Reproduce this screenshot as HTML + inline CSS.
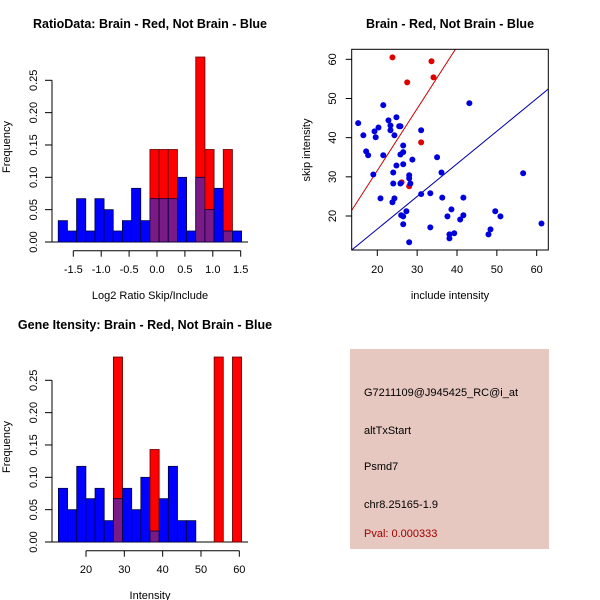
<!DOCTYPE html>
<html><head><meta charset="utf-8"><style>
body{margin:0;background:#fff}
svg{display:block;font-family:"Liberation Sans",sans-serif}
</style></head><body>
<svg id="c" width="600" height="600" viewBox="0 0 600 600">
<rect width="600" height="600" fill="#fff"/>
<text x="150" y="28" font-size="12.5" font-weight="bold" text-anchor="middle">RatioData: Brain - Red, Not Brain - Blue</text>
<text x="450" y="28" font-size="12.5" font-weight="bold" text-anchor="middle">Brain - Red, Not Brain - Blue</text>
<text x="145" y="329" font-size="12.5" font-weight="bold" text-anchor="middle">Gene Itensity: Brain - Red, Not Brain - Blue</text>
<g>
<rect x="350" y="349" width="199" height="200" fill="#e6c8c0"/>
<text x="364" y="396" font-size="11">G7211109@J945425_RC@i_at</text>
<text x="364" y="434" font-size="11">altTxStart</text>
<text x="364" y="470" font-size="11">Psmd7</text>
<text x="364" y="508" font-size="11">chr8.25165-1.9</text>
<text x="364" y="537" font-size="11" fill="#a00000">Pval: 0.000333</text>
</g>
</svg>
<script>
// ratio histogram data
const ratioBinStart=-1.77, ratioBinW=0.1643;
const ratioBlue=[0.033,0.017,0.067,0.017,0.067,0.05,0.017,0.033,0.083,0.033,0.067,0.067,0.067,0.1,0.017,0.1,0.05,0.083,0.017,0.017];
const ratioRed=[0,0,0,0,0,0,0,0,0,0,0.143,0.143,0.143,0,0,0.286,0.143,0,0.143,0];
const ratioXTicks=[-1.5,-1.0,-0.5,0.0,0.5,1.0,1.5];
const ratioXLabels=["-1.5","-1.0","-0.5","0.0","0.5","1.0","1.5"];
// intensity histogram data
const intBinStart=12.8, intBinW=2.39;
const intBlue=[0.083,0.05,0.117,0.067,0.083,0.033,0.067,0.083,0.05,0.1,0.017,0.067,0.117,0.033,0.033,0,0,0,0,0];
const intRed=[0,0,0,0,0,0,0.286,0,0,0,0.143,0,0,0,0,0,0,0.286,0,0.286];
const intXTicks=[20,30,40,50,60];
const freqTicks=[0,0.05,0.10,0.15,0.20,0.25];
const freqLabels=["0.00","0.05","0.10","0.15","0.20","0.25"];
// scatter data
const blueX=[15.2,16.5,21.5,17.2,17.7,19.3,20.3,19.6,21.5,19.0,20.8,22.8,23.3,23.3,24.8,24.3,25.5,25.8,26.5,26.5,25.8,24.0,24.8,26.5,24.0,25.8,28.8,28.0,28.0,28.3,24.3,23.8,31.0,31.0,33.3,35.0,36.1,36.3,43.1,26.0,26.5,27.3,26.5,28.0,33.3,37.6,38.6,38.1,38.1,39.3,40.8,41.6,41.6,47.9,48.4,49.6,50.9,56.6,61.2];
const blueY=[43.7,40.6,48.3,36.5,35.5,41.6,42.6,40.1,35.5,30.6,24.5,44.4,43.1,41.9,45.2,40.6,42.9,42.9,38.0,36.3,35.7,31.1,32.9,33.2,28.3,28.3,34.4,30.4,29.6,28.3,24.5,23.5,41.9,25.6,25.8,35.0,31.1,24.7,48.8,20.2,19.9,21.2,17.9,13.3,17.1,19.9,21.7,15.3,14.3,15.6,19.1,20.2,24.7,15.3,16.6,21.2,19.9,30.9,18.1];
const redX=[23.8,33.6,27.5,34.1,31.0,26.1,28.0];
const redY=[60.5,59.5,54.1,55.4,38.8,28.6,27.6];
const redSlope=1.58, blueSlope=0.833;
const scXTicks=[20,30,40,50,60], scYTicks=[20,30,40,50,60];

const svg=document.getElementById('c');
const NS='http://www.w3.org/2000/svg';
function mk(tag,attrs,parent){const e=document.createElementNS(NS,tag);for(const k in attrs)e.setAttribute(k,attrs[k]);(parent||svg).appendChild(e);return e;}

function hist(oy,x0,pxPerUnit,binStart,binW,blue,red,xticks,xlabels,xtitle,pre){
  const fy=v=>oy+242-v*646.8;
  const fx=v=>x0+(v)*pxPerUnit;
  const g=mk('g',{});
  
  
  mk('line',{x1:52,x2:248,y1:fy(0),y2:fy(0),stroke:'#000','stroke-width':1},g);
  for(let i=0;i<blue.length;i++){
    const a=fx(binStart+i*binW), b=fx(binStart+(i+1)*binW);
    if(red[i]>0){const r=mk('rect',{x:a,y:fy(red[i]),width:b-a,height:fy(0)-fy(red[i]),fill:'#ff0000',stroke:'#600000','stroke-width':0.8},g);
      
      }
    if(blue[i]>0){const col=red[i]>0?'#7a1a86':'#0000ff';
      const r=mk('rect',{x:a,y:fy(blue[i]),width:b-a,height:fy(0)-fy(blue[i]),fill:col,stroke:'#000040','stroke-width':0.8},g);
      
      }
  }
  const ya=mk('g',{},g);
  
  
  mk('line',{x1:52,x2:52,y1:fy(0),y2:fy(0.25),stroke:'#000'},ya);
  freqTicks.forEach((t,i)=>{mk('line',{x1:45,x2:52,y1:fy(t),y2:fy(t),stroke:'#000'},ya);
    const tx=mk('text',{x:0,y:0,'font-size':11,'text-anchor':'middle',transform:`translate(37,${fy(t)}) rotate(-90)`},ya);tx.textContent=freqLabels[i];});
  const yt=mk('text',{'font-size':11,'text-anchor':'middle',transform:`translate(10,${oy+147}) rotate(-90)`},g);
  yt.textContent='Frequency';
  
  
  const xa=mk('g',{},g);
  
  
  const ay=oy+250.7;
  mk('line',{x1:fx(xticks[0]),x2:fx(xticks[xticks.length-1]),y1:ay,y2:ay,stroke:'#000'},xa);
  xticks.forEach((t,i)=>{mk('line',{x1:fx(t),x2:fx(t),y1:ay,y2:ay+6,stroke:'#000'},xa);
    const tx=mk('text',{x:fx(t),y:oy+273,'font-size':11,'text-anchor':'middle'},xa);tx.textContent=xlabels[i];});
  const xt=mk('text',{x:150,y:oy+299,'font-size':11,'text-anchor':'middle'},g);
  xt.textContent=xtitle;
  
  
}
hist(0,157,55.8,ratioBinStart,ratioBinW,ratioBlue,ratioRed,ratioXTicks,ratioXLabels,'Log2 Ratio Skip/Include','ratio');
hist(300,86-20*3.833,3.833,intBinStart,intBinW,intBlue,intRed,intXTicks,intXTicks.map(String),'Intensity','intensity');

const L=351.7,R=548.3,T=49.3,B=250;
const sx=v=>377.3+(v-20)*3.985;
const sy=v=>216-(v-20)*3.917;
const sg=mk('g',{});


const cp=mk('clipPath',{id:'cp'},sg);
mk('rect',{x:L,y:T,width:R-L,height:B-T},cp);
const xmin=(L-377.3)/3.985+20, xmax=(R-377.3)/3.985+20;
const inner=mk('g',{'clip-path':'url(#cp)'},sg);
const rl=mk('line',{x1:sx(xmin),y1:sy(redSlope*xmin),x2:sx(xmax),y2:sy(redSlope*xmax),stroke:'#cc0000'},inner);


const bl=mk('line',{x1:sx(xmin),y1:sy(blueSlope*xmin),x2:sx(xmax),y2:sy(blueSlope*xmax),stroke:'#0000aa'},inner);


redX.forEach((x,i)=>{const c=mk('circle',{cx:sx(x),cy:sy(redY[i]),r:3,fill:'#e00000'},inner);
  
  });
blueX.forEach((x,i)=>{const c=mk('circle',{cx:sx(x),cy:sy(blueY[i]),r:3,fill:'#0000dd'},inner);
  
  });
mk('rect',{x:L,y:T,width:R-L,height:B-T,fill:'none',stroke:'#000'},sg);
const sxa=mk('g',{},sg);


scXTicks.forEach(t=>{mk('line',{x1:sx(t),x2:sx(t),y1:B,y2:B+6,stroke:'#000'},sxa);
  const tx=mk('text',{x:sx(t),y:273,'font-size':11,'text-anchor':'middle'},sxa);tx.textContent=t;});
const sya=mk('g',{},sg);


scYTicks.forEach(t=>{mk('line',{x1:L-6,x2:L,y1:sy(t),y2:sy(t),stroke:'#000'},sya);
  const tx=mk('text',{'font-size':11,'text-anchor':'middle',transform:`translate(336,${sy(t)}) rotate(-90)`},sya);tx.textContent=t;});
const sxt=mk('text',{x:450,y:299,'font-size':11,'text-anchor':'middle'},sg);
sxt.textContent='include intensity';


const syt=mk('text',{'font-size':11,'text-anchor':'middle',transform:'translate(310,150) rotate(-90)'},sg);
syt.textContent='skip intensity';


</script>
</body></html>
